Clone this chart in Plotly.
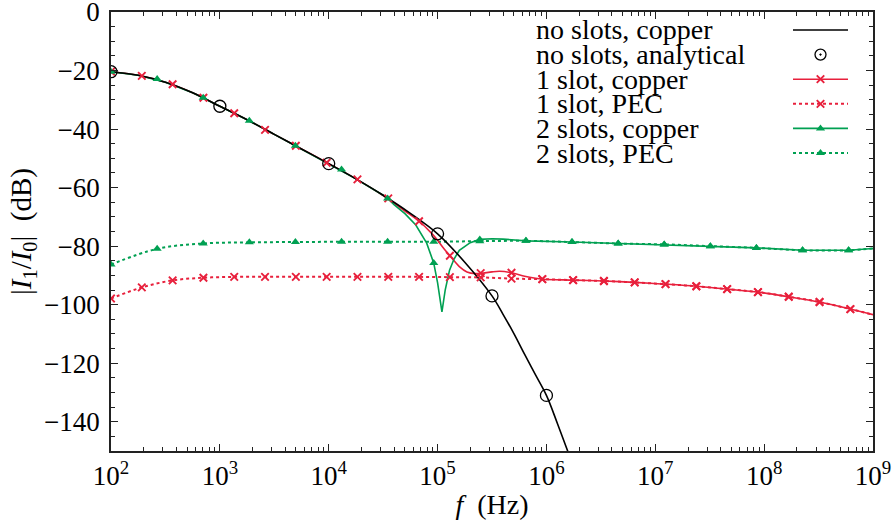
import plotly.graph_objects as go

# ---------------- data (x stored as log10 of frequency in Hz) ----------------
black_log10f = [2.0, 2.25, 2.5, 2.75, 3.0, 3.25, 3.5, 3.75, 4.0, 4.25, 4.5, 4.75,
                5.0, 5.25, 5.5, 5.6, 5.7, 5.8, 5.9, 6.0, 6.1, 6.2, 6.25]
black_db = [-20.4, -21.6, -24.0, -27.6, -32.2, -36.8, -41.8, -46.8, -51.8, -57.0,
            -62.6, -68.8, -75.8, -85.5, -97.0, -103.2, -109.8, -117.0, -124.0, -131.0,
            -140.5, -150.5, -155.5]

analytic_log10f = [2.0, 3.0, 4.0, 5.0, 5.5, 6.0]
analytic_db = [-20.4, -32.2, -51.8, -75.8, -97.0, -131.0]

red_cu_log10f = [2.0, 2.25, 2.5, 2.75, 3.0, 3.25, 3.5, 3.75, 4.0, 4.25, 4.5, 4.7,
                 4.83, 4.95, 5.0, 5.05, 5.113, 5.2, 5.27, 5.35, 5.4, 5.5, 5.57,
                 5.68, 5.8, 5.9, 5.962, 6.245, 6.528, 6.811, 7.094, 7.377, 7.66,
                 7.943, 8.226, 8.509, 8.792, 9.0]
red_cu_db = [-20.4, -21.6, -24.0, -27.6, -32.2, -36.8, -41.8, -46.8, -51.8, -57.0,
             -62.7, -68.0, -71.5, -75.8, -78.0, -80.5, -83.3, -87.0, -88.8, -89.4,
             -89.3, -88.8, -88.6, -89.1, -90.3, -91.0, -91.3, -91.6, -91.9, -92.4,
             -93.0, -93.7, -94.7, -95.7, -97.3, -99.1, -101.5, -103.4]

red_mk_log10f = [2.0, 2.283, 2.566, 2.849, 3.132, 3.415, 3.698, 3.981, 4.264, 4.547,
                 4.83, 5.113, 5.396, 5.679, 5.962, 6.245, 6.528, 6.811, 7.094, 7.377,
                 7.66, 7.943, 8.226, 8.509, 8.792]
red_cu_mk_db = [-20.4, -21.8, -24.7, -29.3, -34.6, -40.3, -45.7, -51.5, -57.2, -63.7,
                -71.5, -83.3, -89.2, -89.1, -91.3, -91.6, -91.9, -92.4, -93.0, -93.7,
                -94.7, -95.7, -97.3, -99.1, -101.5]
red_pec_mk_db = [-97.9, -94.1, -91.7, -90.8, -90.5, -90.5, -90.5, -90.5, -90.5, -90.5,
                 -90.5, -90.6, -90.7, -91.1, -91.3, -91.6, -91.9, -92.4, -93.0, -93.7,
                 -94.7, -95.7, -97.3, -99.1, -101.5]
red_pec_log10f = red_mk_log10f + [9.0]
red_pec_db = red_pec_mk_db + [-103.4]

green_cu_log10f = [2.0, 2.25, 2.5, 2.75, 3.0, 3.25, 3.5, 3.75, 4.0, 4.25, 4.5, 4.541,
                   4.6, 4.7, 4.8, 4.9, 4.965, 5.0, 5.04, 5.07, 5.11, 5.15, 5.2, 5.3,
                   5.388, 5.5, 5.6, 5.812, 6.235, 6.659, 7.082, 7.506, 7.929, 8.353,
                   8.776, 9.0]
green_cu_db = [-20.4, -21.6, -24.0, -27.6, -32.2, -36.8, -41.8, -46.8, -51.8, -57.0,
               -62.6, -63.7, -65.8, -68.9, -72.8, -79.0, -85.8, -92.5, -102.5, -95.0,
               -88.2, -84.5, -81.4, -78.8, -77.7, -77.5, -77.6, -78.2, -78.6, -79.1,
               -79.4, -80.0, -80.6, -81.4, -81.4, -80.8]

green_mk_log10f = [2.0, 2.424, 2.847, 3.271, 3.694, 4.118, 4.541, 4.965, 5.388, 5.812,
                   6.235, 6.659, 7.082, 7.506, 7.929, 8.353, 8.776]
green_cu_mk_db = [-20.4, -22.9, -29.3, -37.2, -45.7, -53.8, -63.7, -85.8, -77.7, -78.2,
                  -78.6, -79.1, -79.4, -80.0, -80.6, -81.4, -81.4]
green_pec_mk_db = [-86.3, -80.9, -79.1, -78.7, -78.6, -78.5, -78.5, -78.5, -78.3, -78.2,
                   -78.6, -79.1, -79.4, -80.0, -80.6, -81.4, -81.4]
green_pec_log10f = green_mk_log10f + [9.0]
green_pec_db = green_pec_mk_db + [-80.8]

legend_labels = ["no slots, copper", "no slots, analytical", "1 slot, copper",
                 "1 slot, PEC", "2 slots, copper", "2 slots, PEC"]
x_tick_exponents = [2, 3, 4, 5, 6, 7, 8, 9]
y_tick_values = [0, -20, -40, -60, -80, -100, -120, -140]

# ---------------- styling / layout constants ----------------
RED = "#e8203c"
GREEN = "#00a052"
FONT = "Liberation Serif"
TICK_FS = 27
TEXT_FS = 28
L, R, T, B = 111, 19, 12, 69
W, H = 892 - L - R, 520 - T - B
KEY_TEXT_X = 534          # px, left edge of legend texts
KEY_X0, KEY_X1 = 793, 848  # px, legend sample line
KEY_ROWS = [30, 54.6, 79.2, 103.8, 128.4, 153]  # px, legend row centres


def hz(vals):
    return [10 ** v for v in vals]


def px_x(p):
    return (p - L) / W


def px_y(p):
    return 1 - (p - T) / H


fig = go.Figure()

# lines
fig.add_trace(go.Scatter(x=hz(red_pec_log10f), y=red_pec_db, mode="lines",
                         line=dict(color=RED, width=2, dash="dot", shape="spline")))
fig.add_trace(go.Scatter(x=hz(green_pec_log10f), y=green_pec_db, mode="lines",
                         line=dict(color=GREEN, width=2, dash="dot", shape="spline")))
fig.add_trace(go.Scatter(x=hz(red_cu_log10f), y=red_cu_db, mode="lines",
                         line=dict(color=RED, width=1.6, shape="spline", smoothing=0.8)))
fig.add_trace(go.Scatter(x=hz(green_cu_log10f), y=green_cu_db, mode="lines",
                         line=dict(color=GREEN, width=1.6, shape="linear")))
fig.add_trace(go.Scatter(x=hz(black_log10f), y=black_db, mode="lines",
                         line=dict(color="black", width=1.6, shape="spline")))

# markers
xmk = dict(symbol="x-thin", size=7.5, line=dict(color=RED, width=1.9), color=RED)
tmk = dict(symbol="triangle-up", size=8, color=GREEN, line=dict(width=0))
cmk = dict(symbol="circle-open", size=12, color="black", line=dict(color="black", width=1.3))
cdk = dict(symbol="circle-open-dot", size=11, color="black", line=dict(color="black", width=1.3))
fig.add_trace(go.Scatter(x=hz(red_mk_log10f), y=red_pec_mk_db, mode="markers", marker=xmk))
fig.add_trace(go.Scatter(x=hz(red_mk_log10f), y=red_cu_mk_db, mode="markers", marker=xmk))
fig.add_trace(go.Scatter(x=hz(green_mk_log10f), y=green_pec_mk_db, mode="markers", marker=tmk))
fig.add_trace(go.Scatter(x=hz(green_mk_log10f), y=green_cu_mk_db, mode="markers", marker=tmk))
fig.add_trace(go.Scatter(x=hz(analytic_log10f), y=analytic_db, mode="markers", marker=cmk))

# legend key (text on the left, sample on the right), drawn on an overlay paper-like axis
key_styles = [
    (dict(color="black", width=1.6), None),
    (None, cdk),
    (dict(color=RED, width=1.6), xmk),
    (dict(color=RED, width=2, dash="dot"), xmk),
    (dict(color=GREEN, width=1.6), tmk),
    (dict(color=GREEN, width=2, dash="dot"), tmk),
]
for (ln, mk), row, lab in zip(key_styles, KEY_ROWS, legend_labels):
    yk = px_y(row)
    if ln is not None:
        fig.add_trace(go.Scatter(x=[px_x(KEY_X0), px_x(KEY_X1)], y=[yk, yk], mode="lines",
                                 line=ln, xaxis="x2", yaxis="y2"))
    if mk is not None:
        fig.add_trace(go.Scatter(x=[px_x((KEY_X0 + KEY_X1) / 2)], y=[yk], mode="markers",
                                 marker=mk, xaxis="x2", yaxis="y2"))
    fig.add_annotation(x=px_x(KEY_TEXT_X), y=yk, xref="paper", yref="paper",
                       text=lab, showarrow=False, xanchor="left", yanchor="middle",
                       font=dict(family=FONT, size=TEXT_FS, color="black"))

minor_x = [m * 10 ** e for e in range(2, 9) for m in range(2, 10)]

axis_common = dict(showline=True, linecolor="#222", linewidth=1.6, mirror="allticks",
                   ticks="inside", ticklen=7, tickwidth=1.3, tickcolor="#222",
                   showgrid=False, zeroline=False, automargin=False,
                   ticklabeloverflow="allow",
                   tickfont=dict(family=FONT, size=TICK_FS, color="black"))

fig.update_layout(xaxis=dict(type="log", range=[2, 9], tickmode="array",
                             tickvals=[10 ** e for e in x_tick_exponents],
                             ticktext=["10<sup>%d</sup>" % e for e in x_tick_exponents],
                             minor=dict(tickmode="array", tickvals=minor_x, ticks="inside",
                                        ticklen=4, tickwidth=1.1, tickcolor="#222",
                                        showgrid=False),
                             title=dict(text="<i>f</i>\u2002(Hz)",
                                        font=dict(family=FONT, size=TEXT_FS), standoff=0),
                             **axis_common),
                  yaxis=dict(range=[-150, 0], tickmode="array", tickvals=y_tick_values,
                             minor=dict(dtick=5, ticks="inside", ticklen=4, tickwidth=1.1,
                                        tickcolor="#222", showgrid=False),
                             ticklabelstandoff=4,
                             title=dict(text="|<i>I</i><sub>1</sub>/<i>I</i><sub>0</sub>|\u2002(dB)",
                                        font=dict(family=FONT, size=29), standoff=4),
                             **axis_common),
                  xaxis2=dict(overlaying="x", range=[0, 1], visible=False, anchor="y2"),
                  yaxis2=dict(overlaying="y", range=[0, 1], visible=False, anchor="x2"))

fig.update_layout(
    width=892, height=520,
    margin=dict(l=L, r=R, t=T, b=B, pad=0),
    paper_bgcolor="white", plot_bgcolor="white",
    showlegend=False,
    font=dict(family=FONT, size=TICK_FS, color="black"),
)

fig.write_html("out.html")
